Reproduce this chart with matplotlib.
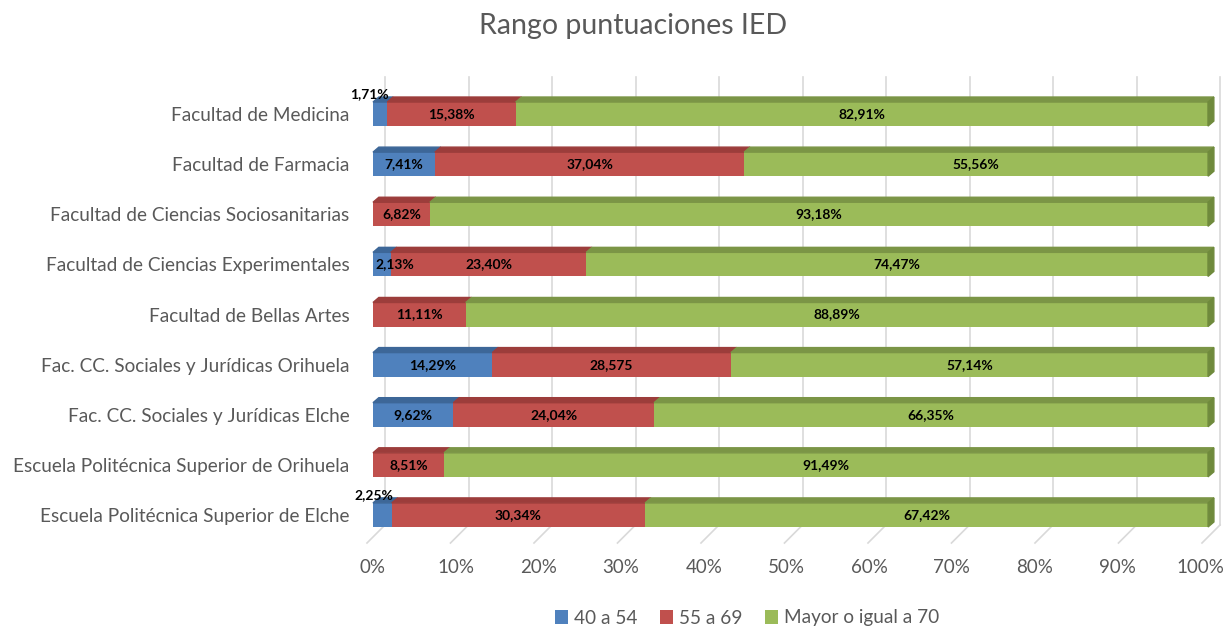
import matplotlib.pyplot as plt
from matplotlib.patches import Polygon
from matplotlib.transforms import ScaledTranslation
import numpy as np

plt.rcParams['font.family'] = ['Lato', 'DejaVu Sans']

# datos (de arriba a abajo, como en el gráfico)
centros = ["Facultad de Medicina", "Facultad de Farmacia",
           "Facultad de Ciencias Sociosanitarias", "Facultad de Ciencias Experimentales",
           "Facultad de Bellas Artes", "Fac. CC. Sociales y Jurídicas Orihuela",
           "Fac. CC. Sociales y Jurídicas Elche", "Escuela Politécnica Superior de Orihuela",
           "Escuela Politécnica Superior de Elche"]
r_40_54 = [1.71, 7.41, 0, 2.13, 0, 14.29, 9.62, 0, 2.25]
r_55_69 = [15.38, 37.04, 6.82, 23.40, 11.11, 28.575, 24.04, 8.51, 30.34]
r_70 = [82.91, 55.56, 93.18, 74.47, 88.89, 57.14, 66.35, 91.49, 67.42]
etq_40_54 = ["1,71%", "7,41%", "", "2,13%", "", "14,29%", "9,62%", "", "2,25%"]
etq_55_69 = ["15,38%", "37,04%", "6,82%", "23,40%", "11,11%", "28,575", "24,04%", "8,51%", "30,34%"]
etq_70 = ["82,91%", "55,56%", "93,18%", "74,47%", "88,89%", "57,14%", "66,35%", "91,49%", "67,42%"]
series = ["40 a 54", "55 a 69", "Mayor o igual a 70"]
ticks_x = [0, 10, 20, 30, 40, 50, 60, 70, 80, 90, 100]

colores = ["#4f81bd", "#c0504d", "#9bbb59"]
arriba = ["#3d6798", "#9c3d3b", "#7b9546"]
lateral = "#6f8a3c"
gris = "#595959"

n = len(centros)
y = np.arange(n)[::-1]
h = 0.48          # alto de la barra
ddx, ddy = 0.7, 0.1   # profundidad de la cara superior
bx, by = 1.44, 0.3    # desplazamiento de la pared del fondo

fig = plt.figure(figsize=(12.27, 6.28), dpi=100)
ax = fig.add_axes([373 / 1227, 1 - 540 / 628, 835 / 1227, 451 / 628])
ax.set_xlim(0, 100)
ax.set_ylim(-0.5, n - 0.5)

# cuadrícula del fondo y suelo
for t in ticks_x:
    ax.plot([t + bx, t + bx], [-0.5 + by, n - 0.26], color="#d9d9d9", lw=1.2, zorder=0, clip_on=False)
    ax.plot([t - 0.72, t + bx], [-0.56, -0.5 + by], color="#d9d9d9", lw=1.2, zorder=0, clip_on=False)

datos = [r_40_54, r_55_69, r_70]
etiquetas = [etq_40_54, etq_55_69, etq_70]
izq = np.zeros(n)
for k in range(3):
    vals = np.array(datos[k])
    ax.barh(y, vals, left=izq, height=h, color=colores[k], zorder=2, label=series[k])
    for i in range(n):
        if vals[i] <= 0:
            continue
        x0, x1 = izq[i], izq[i] + vals[i]
        yt = y[i] + h / 2
        ax.add_patch(Polygon([(x0, yt), (x1, yt), (x1 + ddx, yt + ddy), (x0 + ddx, yt + ddy)],
                             closed=True, color=arriba[k], zorder=2, clip_on=False))
        if k == 2:
            yb = y[i] - h / 2
            ax.add_patch(Polygon([(x1, yb), (x1, yt), (x1 + ddx, yt + ddy), (x1 + ddx, yb + ddy)],
                                 closed=True, color=lateral, zorder=2, clip_on=False))
        txt = etiquetas[k][i]
        if vals[i] < 2.0 or (2.2 < vals[i] < 3):
            # etiqueta encima de la barra
            ax.text(x1 + 0.2, yt + 0.04, txt, ha="right", va="bottom", fontsize=10,
                    fontweight="bold", color="black", zorder=4)
        elif vals[i] < 2.2:
            ax.text(x0 + vals[i] / 2 + 1.6, y[i], txt, ha="center", va="center", fontsize=10,
                    fontweight="bold", color="black", zorder=4)
        else:
            ax.text(x0 + vals[i] / 2, y[i], txt, ha="center", va="center", fontsize=10,
                    fontweight="bold", color="black", zorder=4)
    izq = izq + vals

ax.set_yticks(y)
ax.set_yticklabels(centros, fontsize=13.7, color=gris)
ax.set_xticks(ticks_x)
ax.set_xticklabels([f"{t}%" for t in ticks_x], fontsize=13.5, color=gris)
ax.tick_params(axis="y", length=0, pad=17)
ax.tick_params(axis="x", length=0, pad=14)
for t, lab in zip(ticks_x, ax.get_xticklabels()):
    lab.set_transform(lab.get_transform() + ScaledTranslation(-0.08 * t / 100, 0, fig.dpi_scale_trans))
for s in ax.spines.values():
    s.set_visible(False)

fig.suptitle("Rango puntuaciones IED", x=633 / 1227, y=1 - 13 / 628, fontsize=20.5, color=gris)

fig.legend(loc="center", bbox_to_anchor=(747 / 1227, 10 / 628), ncol=3, frameon=False,
           fontsize=13.7, labelcolor=gris, handlelength=0.7, handleheight=0.7,
           handletextpad=0.3, columnspacing=1.2)

fig.savefig("out.png", dpi=100)
